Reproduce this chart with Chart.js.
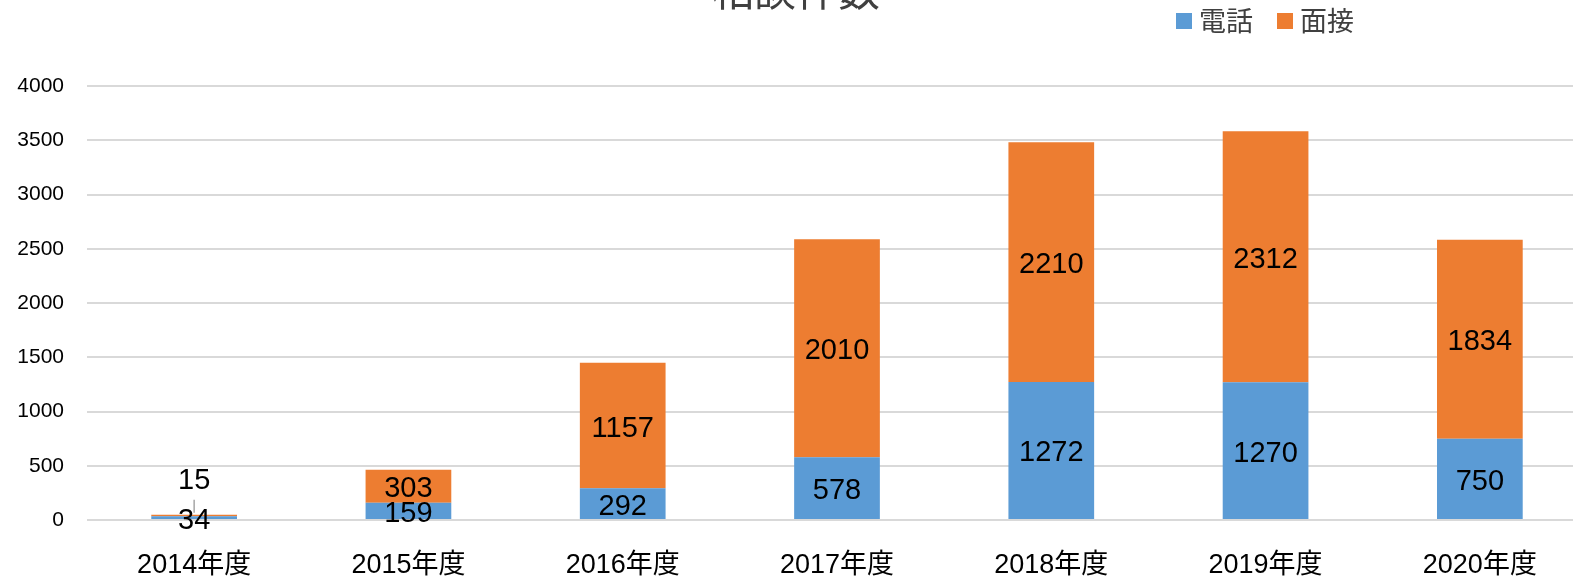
<!DOCTYPE html>
<html lang="ja">
<head>
<meta charset="utf-8">
<title>相談件数</title>
<script src="https://cdn.jsdelivr.net/npm/chart.js@4.4.1/dist/chart.umd.min.js"></script>
<style>
    html, body { margin: 0; padding: 0; background: #fff; }
    #wrap { width: 1573px; height: 581px; overflow: hidden; position: relative; }
    #chart { position: absolute; left: 0; top: 0; }
</style>
</head>
<body>
<div id="wrap"><canvas id="chart" width="1600" height="581"></canvas></div>
<script>
// Chart data
const title = '相談件数';
const years = ['2014年度', '2015年度', '2016年度', '2017年度', '2018年度', '2019年度', '2020年度'];
const phoneCounts = [34, 159, 292, 578, 1272, 1270, 750];
const visitCounts = [15, 303, 1157, 2010, 2210, 2312, 1834];
const seriesNames = ['電話', '面接'];
const seriesColors = ['#5B9BD5', '#ED7D31'];
const yTicks = [0, 500, 1000, 1500, 2000, 2500, 3000, 3500, 4000];

const FONT = "'Liberation Sans', 'Noto Sans CJK JP', sans-serif";
const CJK_FONT = "'Noto Sans CJK JP', 'Liberation Sans', sans-serif";

// Title and legend (Excel style: title cut at top, legend at top right)
const headerPlugin = {
    id: 'header',
    afterDraw(chart) {
        const ctx = chart.ctx;
        ctx.save();
        ctx.fillStyle = '#404040';
        ctx.font = '42px ' + CJK_FONT;
        ctx.textAlign = 'center';
        ctx.textBaseline = 'alphabetic';
        ctx.fillText(title, 796, 6);

        ctx.font = '27px ' + CJK_FONT;
        ctx.textAlign = 'left';
        ctx.textBaseline = 'middle';
        let x = 1176;
        seriesNames.forEach((name, i) => {
            ctx.fillStyle = seriesColors[i];
            ctx.fillRect(x, 13, 16, 16);
            ctx.fillStyle = '#404040';
            ctx.fillText(name, x + 23, 21);
            x += 101;
        });
        ctx.restore();
    }
};

// Value labels in the middle of each segment
const valueLabelPlugin = {
    id: 'valueLabels',
    afterDatasetsDraw(chart) {
        const ctx = chart.ctx;
        ctx.save();
        ctx.font = '29px ' + FONT;
        ctx.fillStyle = '#000';
        ctx.textAlign = 'center';
        ctx.textBaseline = 'middle';
        chart.data.datasets.forEach((ds, di) => {
            const meta = chart.getDatasetMeta(di);
            meta.data.forEach((bar, i) => {
                const h = Math.abs(bar.base - bar.y);
                let cy = (bar.y + bar.base) / 2 + 3;
                if (di === 1 && h < 20) {
                    // too small: move label up with a leader line
                    ctx.strokeStyle = '#A6A6A6';
                    ctx.lineWidth = 1.5;
                    ctx.beginPath();
                    ctx.moveTo(bar.x, bar.y - 2);
                    ctx.lineTo(bar.x, bar.y - 15);
                    ctx.stroke();
                    cy = bar.y - 34;
                }
                ctx.fillText(String(ds.data[i]), bar.x, cy);
            });
        });
        ctx.restore();
    }
};

const ctx = document.getElementById('chart').getContext('2d');
new Chart(ctx, {
    type: 'bar',
    data: {
        labels: years,
        datasets: [
            { label: seriesNames[0], data: phoneCounts, backgroundColor: seriesColors[0] },
            { label: seriesNames[1], data: visitCounts, backgroundColor: seriesColors[1] }
        ]
    },
    options: {
        responsive: false,
        animation: false,
        layout: { padding: { top: 86, right: 13, bottom: 0, left: 0 } },
        datasets: {
            bar: { categoryPercentage: 1, barPercentage: 0.4, borderWidth: 0 }
        },
        plugins: {
            legend: { display: false },
            title: { display: false },
            tooltip: { enabled: false }
        },
        scales: {
            x: {
                stacked: true,
                grid: { display: false, drawTicks: false },
                border: { display: false },
                ticks: { color: '#000', font: { family: FONT, size: 27 }, padding: 29, maxRotation: 0 },
                afterFit(scale) { scale.height = 61; }
            },
            y: {
                stacked: true,
                min: 0,
                max: yTicks[yTicks.length - 1],
                afterBuildTicks(scale) { scale.ticks = yTicks.map(v => ({ value: v })); },
                grid: { color: '#D9D9D9', lineWidth: 2, drawTicks: false },
                border: { display: false },
                ticks: {
                    color: '#000',
                    font: { family: FONT, size: 21 },
                    padding: 23,
                    callback: (v) => String(v)
                },
                afterFit(scale) { scale.width = 87; }
            }
        }
    },
    plugins: [headerPlugin, valueLabelPlugin]
});
</script>
</body>
</html>
